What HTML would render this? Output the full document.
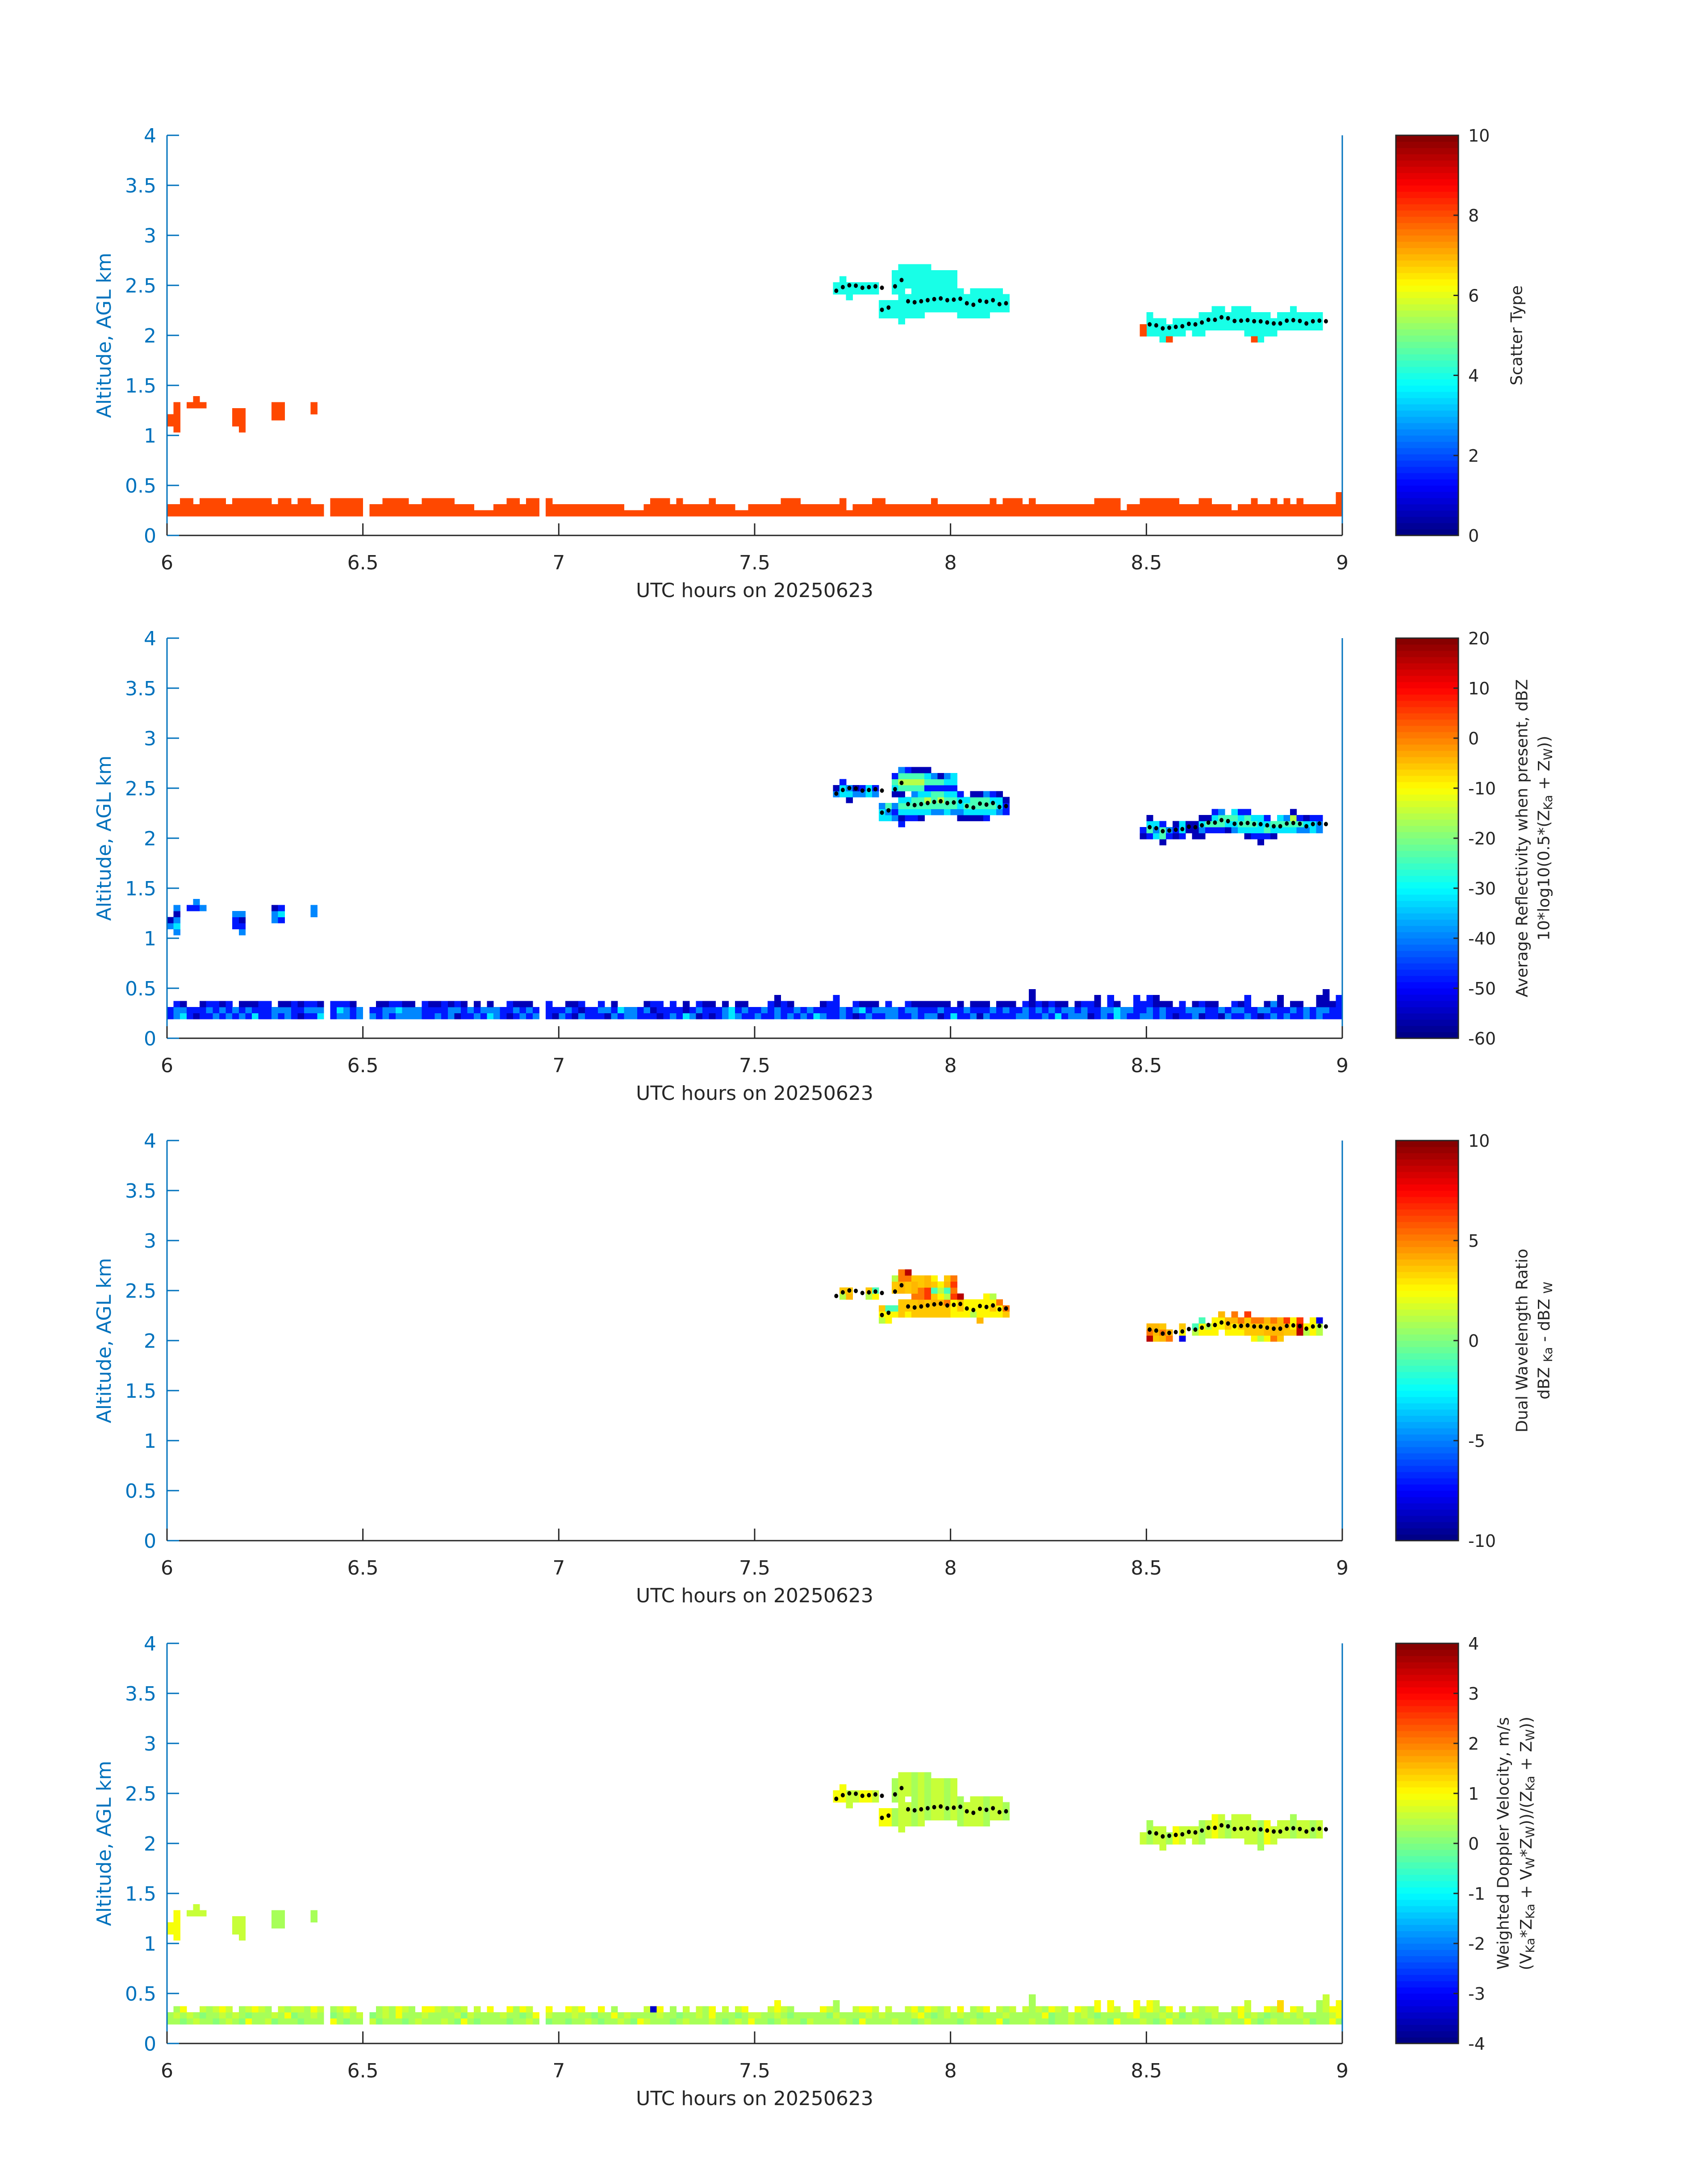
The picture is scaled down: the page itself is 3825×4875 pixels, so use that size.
<!DOCTYPE html>
<html>
<head>
<meta charset="utf-8">
<style>
html,body{margin:0;padding:0;background:#fff;}
svg{display:block;}
text{font-family:"DejaVu Sans","Liberation Sans",sans-serif;}
</style>
</head>
<body>
<svg id="fig" xmlns="http://www.w3.org/2000/svg" width="3825" height="4875" viewBox="0 0 3825 4875">
<rect x="0" y="0" width="3825" height="4875" fill="#ffffff"/>
<g id="cells" shape-rendering="crispEdges"></g>
<g id="dots"></g>
<g id="axes"></g>
<g id="cbars" shape-rendering="crispEdges"></g>

<text transform="translate(3397,751) rotate(-90)" text-anchor="middle" dominant-baseline="central" font-size="36" fill="#262626">Scatter Type</text>

<text transform="translate(3409,1877) rotate(-90)" text-anchor="middle" dominant-baseline="central" font-size="36" fill="#262626">Average Reflectivity when present, dBZ</text>
<text transform="translate(3458,1877) rotate(-90)" text-anchor="middle" dominant-baseline="central" font-size="36" fill="#262626">10*log10(0.5*(Z<tspan font-size="27" dy="9">Ka</tspan><tspan dy="-9"> + Z</tspan><tspan font-size="27" dy="9">W</tspan><tspan dy="-9">))</tspan></text>

<text transform="translate(3409,3002) rotate(-90)" text-anchor="middle" dominant-baseline="central" font-size="36" fill="#262626">Dual Wavelength Ratio</text>
<text transform="translate(3458,3002) rotate(-90)" text-anchor="middle" dominant-baseline="central" font-size="36" fill="#262626">dBZ <tspan font-size="27" dy="9">Ka</tspan><tspan dy="-9"> - dBZ </tspan><tspan font-size="27" dy="9">W</tspan></text>

<text transform="translate(3367,4128) rotate(-90)" text-anchor="middle" dominant-baseline="central" font-size="36" fill="#262626">Weighted Doppler Velocity, m/s</text>
<text transform="translate(3418,4128) rotate(-90)" text-anchor="middle" dominant-baseline="central" font-size="36" fill="#262626">(V<tspan font-size="27" dy="9">Ka</tspan><tspan dy="-9">*Z</tspan><tspan font-size="27" dy="9">Ka</tspan><tspan dy="-9"> + V</tspan><tspan font-size="27" dy="9">W</tspan><tspan dy="-9">*Z</tspan><tspan font-size="27" dy="9">W</tspan><tspan dy="-9">))/(Z</tspan><tspan font-size="27" dy="9">Ka</tspan><tspan dy="-9"> + Z</tspan><tspan font-size="27" dy="9">W</tspan><tspan dy="-9">))</tspan></text>
</svg>

<script>
// ---------------- data ----------------
const xTickLabels = ["6","6.5","7","7.5","8","8.5","9"];
const xTickValues = [6,6.5,7,7.5,8,8.5,9];
const yTickLabels = ["0","0.5","1","1.5","2","2.5","3","3.5","4"];
const yTickValues = [0,0.5,1,1.5,2,2.5,3,3.5,4];
const cbarTicks0 = [0,2,4,6,8,10];
const cbarTicks1 = [-60,-50,-40,-30,-20,-10,0,10,20];
const cbarTicks2 = [-10,-5,0,5,10];
const cbarTicks3 = [-4,-3,-2,-1,0,1,2,3,4];
const cbarRanges = [[0,10],[-60,20],[-10,10],[-4,4]];

const refLUT = [-56,-48,-40,-32,-24,-16,-8,0,8,16];
const dwrLUT = [-8,-4,-1,1,2.5,3.5,4,5,6.5,9];
const velLUT = [-3.5,-2,-1,-0.5,0,0.3,0.6,0.9,1.3,2.5];

const groundMaskP1 = "2233233332 3333332332 3322033333 0223333223 3333222111 2233233032 2222222222 1112333232 2223222112 2222333222 2223122233 2222222322 2222223233 3232222222 2233331223 3333322233 2221223223 2323222224";
const groundMaskP2 = "2332233333 2333332333 3333033332 0233333323 3333332323 2233332032 2333223232 2223332323 2333232332 2234332222 3342233332 3223333333 2323332333 2353333323 3342432243 4433232333 3223342233 4233224534";
const refRow3 = "1231011212 1213112121 0113212212 1212122221 1212011213 2101212210 2102111021 2211101213 2010123211 2112121213 2112101211 2211212201 3112021111 2211213122 2012132112 2121011201 1021121012 1211212111";
const refRow4 = "1221112121 2121112221 1222113212 1112232221 1112212122 2112121211 1210112213 2212011110 1211123121 1212112121 1112123122 2212211121 1121112121 1212121221 2112232211 2121112221 1212211221 1121212211";
const refRow5 = "0100101101 1000111001 0110211100 1000110001 0010100010 0010000110 1001101000 0000110100 0100100000 0110101000 0110010000 1001000000 0000001000 0101010000 1100101011 1000111010 0101011002 0100100001";
const velRow3 = "5545655456 5475564555 4555675455 5645554565 5565475455 5545565745 5455654556 5476555456 5556545657 5545655465 5556547555 5655456555 5456555745 5565545565 5655475556 5457555654 5565575456 5555645575";
const velRow4 = "5656545565 6545556574 5565545656 5456575556 5555646555 5655457565 5565545575 6555565545 5657555456 6556545555 5465555656 5555675456 5655455565 5555745565 6545555675 5565645555 6555756545 5656555567";
const velRow5 = "6575765676 7567657656 6576756765 6756576567 7656567657 6675765676 5767657656 6576076576 7657567676 5767657656 7656567765 6576757656 6765672656 7656576567 6576765676 7657567656 6576765676 8676575677";
const velColumn = "77.666...." + "66....55.." + "..5......." + ".".repeat(70) + "..77667767" + "7566565665" + "656665665." + ".".repeat(19) + "65665766656" + "7656666576" + "6656656...";

const refCells = [
[0,18,"20"],[1,17,"23202"],[3,21,"1"],[4,21,"12"],[5,21,"2"],[10,18,"112"],[11,17,"2102"],[16,19,"220"],[17,19,"131"],[22,20,"22"],
[102,40,"20"],[103,40,"331"],[104,39,"032"],[105,40,"20"],[106,40,"21"],[107,40,"33"],[108,40,"21"],
[109,36,"332"],[110,36,"324"],[111,36,"212.0341"],[112,35,"1034304542"],[113,36,"1343.4541"],[114,36,"134424540"],[115,36,"034434540"],[116,37,"34531430"],[117,37,"2444142"],[118,37,"2454140"],[119,37,"3443132"],[120,37,"2443133"],[121,36,"02331"],[122,36,"0343"],[123,36,"03440"],[124,36,"03440"],[125,36,"13442"],[126,37,"3431"],[127,37,"2330"],[128,37,"110"],
[149,33,"01"],[150,33,"1430"],[151,33,"323"],[152,32,"0441"],[153,33,"12"],[154,33,"010"],[155,33,"133"],[156,34,"00"],[157,33,"000"],[158,33,"0230"],[159,34,"140"],[160,34,"1431"],[161,34,"1442"],[162,34,"034"],[163,34,"2343"],[164,34,"3431"],[165,33,"03441"],[166,33,"1343"],[167,32,"01333"],[168,33,"1431"],[169,33,"034"],[170,34,"343"],[171,34,"342"],[172,34,"3450"],[173,34,"241"],[174,34,"230"],[175,34,"331"],[176,34,"221"]
];
const dwrCells = [
[103,40,"35"],[104,40,"65"],[107,40,"35"],[108,40,"42"],
[109,36,"345"],[110,36,"442"],[111,37,"42..553"],[112,37,"555.6677"],[113,37,"455.5579"],[114,37,"5557665"],[115,37,"5567755"],[116,37,"5558866"],[117,37,"5565254"],[118,37,"556434"],[119,37,"5573265"],[120,37,"4448787"],[121,37,"4559"],[122,37,"444"],[123,37,"344"],[124,36,"6444"],[125,37,"4444"],[126,37,"4543"],[127,37,"447"],[128,37,"57"],
[150,33,"976"],[151,33,"566"],[152,33,"675"],[153,33,"76"],[155,33,"045"],[157,34,"32"],[158,34,"442"],[159,34,"43"],[160,34,"444"],[161,35,"446"],[162,34,"456"],[163,34,"4467"],[164,34,"457"],[165,34,"5558"],[166,33,"4557"],[167,33,"3557"],[168,33,"4656"],[169,33,"7667"],[170,33,"5666"],[171,34,"568"],[172,34,"544"],[173,34,"998"],[174,34,"34"],[175,34,"444"],[176,34,"330"]
];
const scatterRedCells = [[149,33],[149,34],[153,32],[166,32]];
const scatterCloudType = 4;
const scatterGroundType = 8;

const dotMinutes = [102,103,104,105,106,107,108,109,111,112,109,110,
113,114,115,116,117,118,119,120,121,122,123,124,125,126,127,128,
150,151,152,153,154,155,156,157,158,159,160,161,162,163,164,165,166,167,168,169,170,171,172,173,174,175,176,177];
const dotAlts = [2.446,2.482,2.501,2.497,2.476,2.482,2.490,2.476,2.49,2.553,2.256,2.278,
2.341,2.331,2.341,2.352,2.362,2.369,2.352,2.357,2.366,2.321,2.306,2.346,2.336,2.352,2.312,2.321,
2.110,2.100,2.070,2.077,2.085,2.091,2.115,2.110,2.129,2.156,2.156,2.181,2.171,2.144,2.147,2.152,2.141,2.140,2.129,2.119,2.119,2.147,2.152,2.144,2.119,2.141,2.147,2.141];

// ---------------- layout / scales ----------------
const NS = "http://www.w3.org/2000/svg";
const PT = [303,1429,2554,3680], PH = 896, X0 = 374, X1 = 3006;
const CB0 = 3126, CB1 = 3266;
function xs(h){ return X0 + (h-6)/3*(X1-X0); }
function ys(p,a){ return PT[p] + PH - a/4*PH; }
function rowAlt(r){ return 0.012 + 0.06*r; }
function minuteHour(m){ return 6 + m/60; }
function jet(v, lo, hi){
  let f = (v-lo)/(hi-lo); f = Math.max(0, Math.min(0.99999, f));
  const idx = Math.floor(f*64); const q = (idx+0.5)/64;
  const c = t => Math.round(255*Math.max(0, Math.min(1, t)));
  return "rgb("+c(1.5-Math.abs(4*q-3))+","+c(1.5-Math.abs(4*q-2))+","+c(1.5-Math.abs(4*q-1))+")";
}
function mk(tag, attrs, parent){
  const e = document.createElementNS(NS, tag);
  for (const k in attrs) e.setAttribute(k, attrs[k]);
  parent.appendChild(e);
  return e;
}
const gCells = document.getElementById("cells");
const gDots = document.getElementById("dots");
const gAxes = document.getElementById("axes");
const gCb = document.getElementById("cbars");

function cell(p, m, r, val){
  const lo = cbarRanges[p][0], hi = cbarRanges[p][1];
  const xa = xs(minuteHour(m)), xb = xs(minuteHour(m+1));
  const yt = ys(p, rowAlt(r+1)), yb = ys(p, rowAlt(r));
  const rc = mk("rect", {x:xa.toFixed(1), y:yt.toFixed(1), width:(xb-xa+0.6).toFixed(1), height:(yb-yt+0.6).toFixed(1), fill:jet(val,lo,hi)}, gCells);
  
  
}
function clean(s){ return s.replace(/ /g,""); }

function drawGround(p, maskStr, r3, r4, r5, lut, constVal){
  const mask = clean(maskStr);
  const a = r3 ? clean(r3) : null, b = r4 ? clean(r4) : null, c = r5 ? clean(r5) : null;
  for (let m = 0; m < mask.length; m++){
    const top = parseInt(mask[m]);
    if (!top) continue;
    for (let k = 0; k < top; k++){
      const r = 3 + k;
      let v = constVal;
      if (lut){
        const ch = k === 0 ? a[m] : (k === 1 ? b[m] : c[m]);
        v = lut[parseInt(ch)];
      }
      cell(p, m, r, v);
    }
  }
}
drawGround(0, groundMaskP1, null, null, null, null, scatterGroundType);
drawGround(1, groundMaskP2, refRow3, refRow4, refRow5, refLUT, 0);
drawGround(3, groundMaskP2, velRow3, velRow4, velRow5, velLUT, 0);

function drawCells(p, list, valueFn){
  for (const [m, r0, s] of list){
    for (let k = 0; k < s.length; k++){
      if (s[k] === ".") continue;
      cell(p, m, r0+k, valueFn(m, r0+k, s[k]));
    }
  }
}
drawCells(0, refCells, (m) => m < 30 ? scatterGroundType : scatterCloudType);
for (const [m, r] of scatterRedCells) cell(0, m, r, scatterGroundType);
drawCells(1, refCells, (m, r, d) => refLUT[parseInt(d)]);
drawCells(2, dwrCells, (m, r, d) => dwrLUT[parseInt(d)]);
drawCells(3, refCells, (m) => velLUT[parseInt(velColumn[m] === "." ? "5" : velColumn[m])]);

for (let p = 0; p < 4; p++){
  for (let i = 0; i < dotMinutes.length; i++){
    const d = mk("ellipse", {cx:xs(minuteHour(dotMinutes[i]+0.5)).toFixed(1), cy:ys(p, dotAlts[i]).toFixed(1), rx:4.5, ry:5, fill:"#000"}, gDots);
    
    
  }
}

for (let p = 0; p < 4; p++){
  const top = PT[p], bot = PT[p] + PH;
  const bl = mk("line", {x1:X0, y1:bot, x2:X1, y2:bot, stroke:"#262626", "stroke-width":3}, gAxes);
  
  
  const ll = mk("line", {x1:X0, y1:top, x2:X0, y2:bot, stroke:"#0072bd", "stroke-width":3}, gAxes);
  
  
  const rl = mk("line", {x1:X1, y1:top, x2:X1, y2:bot, stroke:"#0072bd", "stroke-width":3}, gAxes);
  
  
  for (let i = 0; i < yTickValues.length; i++){
    const y = ys(p, yTickValues[i]);
    const tk = mk("line", {x1:X0, y1:y, x2:X0+27, y2:y, stroke:"#0072bd", "stroke-width":3}, gAxes);
    
    
    const tl = mk("text", {x:350, y:y+16, "text-anchor":"end", "font-size":44, fill:"#0072bd"}, gAxes);
    tl.textContent = yTickLabels[i];
    
    
  }
  for (let i = 0; i < xTickValues.length; i++){
    const x = xs(xTickValues[i]);
    const tk = mk("line", {x1:x, y1:bot, x2:x, y2:bot-27, stroke:"#262626", "stroke-width":3}, gAxes);
    
    
    const tl = mk("text", {x:x, y:bot+76, "text-anchor":"middle", "font-size":44, fill:"#262626"}, gAxes);
    tl.textContent = xTickLabels[i];
    
    
  }
  const xl = mk("text", {x:(X0+X1)/2, y:bot+138, "text-anchor":"middle", "font-size":44, fill:"#262626"}, gAxes);
  xl.textContent = "UTC hours on 20250623";
  
  
  const yl = mk("text", {transform:"translate(248,"+(top+PH/2)+") rotate(-90)", "text-anchor":"middle", "font-size":44, fill:"#0072bd"}, gAxes);
  yl.textContent = "Altitude, AGL km";
  
  
}

const cbTicks = [cbarTicks0, cbarTicks1, cbarTicks2, cbarTicks3];
for (let p = 0; p < 4; p++){
  const top = PT[p], bot = PT[p] + PH;
  const lo = cbarRanges[p][0], hi = cbarRanges[p][1];
  for (let i = 0; i < 64; i++){
    const v = lo + (i+0.5)/64*(hi-lo);
    const y1 = bot - (i+1)/64*PH, y0 = bot - i/64*PH;
    const s = mk("rect", {x:CB0, y:y1.toFixed(1), width:CB1-CB0, height:(y0-y1+0.6).toFixed(1), fill:jet(v,lo,hi)}, gCb);
    
    
  }
  const fr = mk("rect", {x:CB0, y:top, width:CB1-CB0, height:PH, fill:"none", stroke:"#262626", "stroke-width":3}, gCb);
  
  
  for (const t of cbTicks[p]){
    const y = bot - (t-lo)/(hi-lo)*PH;
    const tk = mk("line", {x1:CB1-11, y1:y, x2:CB1, y2:y, stroke:"#262626", "stroke-width":3}, gCb);
    
    
    const tl = mk("text", {x:3288, y:y+14, "font-size":38, fill:"#262626"}, gCb);
    tl.textContent = String(t);
    
    
  }
}
</script>
</body>
</html>
